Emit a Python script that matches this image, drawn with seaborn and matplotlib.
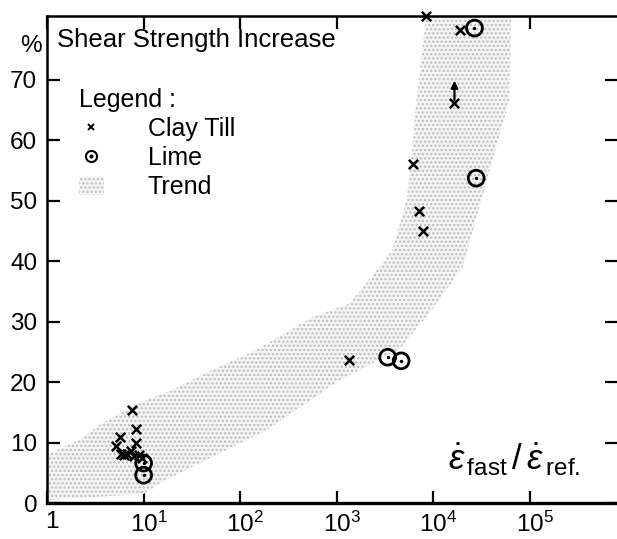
import numpy as np
import pandas as pd
import matplotlib
matplotlib.use("Agg")
import matplotlib.pyplot as plt
import seaborn as sns
from matplotlib.lines import Line2D
from matplotlib.patches import Patch
from matplotlib.legend_handler import HandlerTuple
from matplotlib.ticker import FixedLocator, FuncFormatter, NullLocator
from matplotlib.transforms import ScaledTranslation

# Clay till measurements (strain-rate ratio, % increase)
clay_x = [7.5, 8.3, 8.4, 5.7, 5.2, 5.8, 6.3, 6.8, 7.4, 8.0, 9.0, 9.7,
          1350, 8400, 18900, 16500, 6100, 7170, 7750]
clay_y = [15.3, 12.2, 10.0, 10.9, 9.4, 8.1, 7.9, 8.1, 8.6, 7.8, 7.9, 7.5,
          23.6, 80.5, 78.2, 66.1, 56.1, 48.2, 45.0]

# Lime measurements
lime_x = [10, 10, 3360, 4630, 26600, 27700]
lime_y = [6.6, 4.6, 24.1, 23.5, 78.5, 53.7]

# Trend band edges
trend_upper_x = [1, 2.2, 3.5, 8, 20, 44, 147, 557, 1350, 2760, 3760, 5270, 6000, 6500, 8500]
trend_upper_y = [8, 10.5, 12.9, 16.2, 18.7, 21.5, 25.3, 30.7, 33, 39, 41.8, 50, 58, 65, 81]
trend_lower_x = [1, 10, 17, 38, 186, 1070, 4500, 9100, 20000, 30000, 61000, 64000]
trend_lower_y = [0.5, 1.5, 3.8, 6.6, 12, 20.3, 25.5, 31.4, 39, 49, 66.6, 81]

# Arrowed point (lower bound) and its arrow tip
arrow_x = 16500
arrow_from, arrow_to = 66.6, 69.8

y_ticks = [0, 10, 20, 30, 40, 50, 60, 70]
x_ticks = [1, 10, 100, 1000, 10000, 100000]

sns.set_theme(style="white")
plt.rcParams["font.family"] = ["Liberation Sans", "DejaVu Sans"]
plt.rcParams["text.color"] = "black"
plt.rcParams["mathtext.fontset"] = "custom"
plt.rcParams["mathtext.rm"] = "Liberation Sans"
plt.rcParams["mathtext.it"] = "Liberation Sans:italic"
plt.rcParams["hatch.linewidth"] = 1.1

fig = plt.figure(figsize=(6.17, 5.39), dpi=100)
ax = fig.add_axes([47 / 617, 36 / 539, 570 / 617, 487 / 539])

band_fc = "#f5f5f5"
band_ec = "#bcbcbc"
ax.fill(np.concatenate([trend_upper_x, trend_lower_x[::-1]]),
        np.concatenate([trend_upper_y, trend_lower_y[::-1]]),
        facecolor=band_fc, edgecolor=band_ec, hatch="....", linewidth=0, zorder=1)

clay = pd.DataFrame({"x": clay_x, "y": clay_y})
lime = pd.DataFrame({"x": lime_x, "y": lime_y})

sns.scatterplot(data=clay, x="x", y="y", marker="x", s=45, color="black",
                linewidth=1.8, ax=ax, zorder=3, clip_on=False)
sns.scatterplot(data=lime, x="x", y="y", marker="o", s=130, facecolor="none",
                edgecolor="black", linewidth=2.0, ax=ax, zorder=3, clip_on=False)
sns.scatterplot(data=lime, x="x", y="y", marker="o", s=6, color="black",
                linewidth=0, ax=ax, zorder=4, clip_on=False)

ax.annotate("", xy=(arrow_x, arrow_to), xytext=(arrow_x, arrow_from),
            arrowprops=dict(arrowstyle="-|>", color="black", lw=1.6,
                            mutation_scale=10, shrinkA=0, shrinkB=0), zorder=4)

ax.set_xscale("log")
ax.set_xlim(1, 10 ** 5.9)
ax.set_ylim(0, 80.5)
ax.set_xlabel("")
ax.set_ylabel("")

ax.xaxis.set_major_locator(FixedLocator(x_ticks))
ax.xaxis.set_minor_locator(NullLocator())
ax.xaxis.set_major_formatter(FuncFormatter(
    lambda v, p: "1" if v == 1 else r"$\mathdefault{10^{%d}}$" % round(np.log10(v))))
ax.yaxis.set_major_locator(FixedLocator(y_ticks))

ax.tick_params(axis="both", which="major", direction="in", length=9, width=1.6,
               labelsize=17.5, colors="black", pad=7)
ax.tick_params(axis="x", top=True, bottom=True, pad=6)
ax.tick_params(axis="y", left=True, right=True)

# nudge the decade labels slightly right of their ticks
shift = ScaledTranslation(5 / 100, 0, fig.dpi_scale_trans)
for lbl in ax.get_xticklabels():
    lbl.set_transform(lbl.get_transform() + shift)

for side in ["left", "bottom", "top"]:
    ax.spines[side].set_color("black")
    ax.spines[side].set_linewidth(1.8)
ax.spines["bottom"].set_linewidth(2.4)
ax.spines["right"].set_visible(False)

ax.text(0.0175, 0.951, "Shear Strength Increase", transform=ax.transAxes,
        fontsize=18.5, ha="left", va="center")
ax.text(-0.010, 0.938, "%", transform=ax.transAxes, fontsize=17.5,
        ha="right", va="center")

ax.text(0.703, 0.068,
        r"$\dot{\varepsilon}_{\,\mathrm{fast}}\,/\,\dot{\varepsilon}_{\,\mathrm{ref.}}$",
        transform=ax.transAxes, fontsize=25, ha="left", va="baseline")

handles = [
    Line2D([], [], marker="x", linestyle="none", color="black", markersize=5, markeredgewidth=1.4),
    (Line2D([], [], marker="o", linestyle="none", markerfacecolor="none",
            markeredgecolor="black", markersize=8, markeredgewidth=1.5),
     Line2D([], [], marker="o", linestyle="none", color="black", markersize=2)),
    Patch(facecolor=band_fc, edgecolor=band_ec, hatch="....", linewidth=0),
]
labels = ["Clay Till", "Lime", "Trend"]
leg = ax.legend(handles, labels, title="Legend :", loc="upper left",
                bbox_to_anchor=(0.056, 0.852), frameon=False, fontsize=18,
                title_fontsize=18, alignment="left", handlelength=1.0,
                handleheight=0.8, handletextpad=1.75, labelspacing=0.2,
                borderpad=0, borderaxespad=0,
                handler_map={tuple: HandlerTuple(ndivide=1)})
for t in leg.get_texts():
    t.set_color("black")
leg.get_title().set_color("black")

fig.savefig("out.png", dpi=100)
